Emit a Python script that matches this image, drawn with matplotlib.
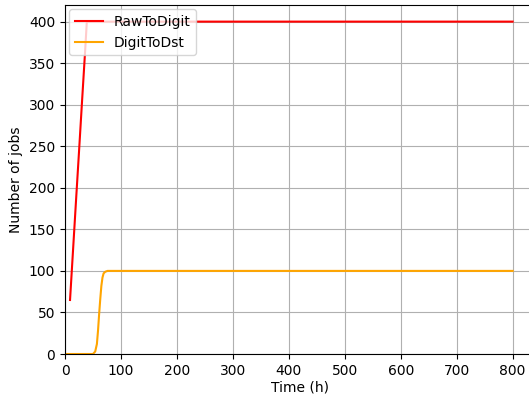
import matplotlib
matplotlib.use("Agg")
import matplotlib.pyplot as plt

raw_t = [9, 15, 20, 25, 30, 36, 39, 100, 200, 300, 400, 500, 600, 700, 800]
raw_y = [65, 132, 188, 243, 299, 365, 400, 400, 400, 400, 400, 400, 400, 400, 400]

dst_t = [0, 10, 20, 30, 40, 50, 54, 57, 59, 61, 63, 65, 67, 69, 72, 76, 100, 200, 400, 600, 800]
dst_y = [0, 0, 0, 0, 0, 0, 3, 12, 28, 48, 66, 82, 92, 97, 99, 100, 100, 100, 100, 100, 100]

fig = plt.figure(figsize=(5.29, 3.95), dpi=100)
ax = fig.add_axes([65/529, 41/395, 470/529, 349/395])
ax.plot(raw_t, raw_y, color="red", lw=1.5, label="RawToDigit")
ax.plot(dst_t, dst_y, color="orange", lw=1.5, label="DigitToDst")
ax.set_xlim(0, 840)
ax.set_ylim(0, 420)
ax.set_xticks(range(0, 801, 100))
ax.set_yticks(range(0, 401, 50))
ax.grid(True)
ax.set_xlabel("Time (h)", labelpad=2)
ax.set_ylabel("Number of jobs")
ax.legend(loc="upper left", borderaxespad=0.3)
fig.savefig("out.png", dpi=100)
